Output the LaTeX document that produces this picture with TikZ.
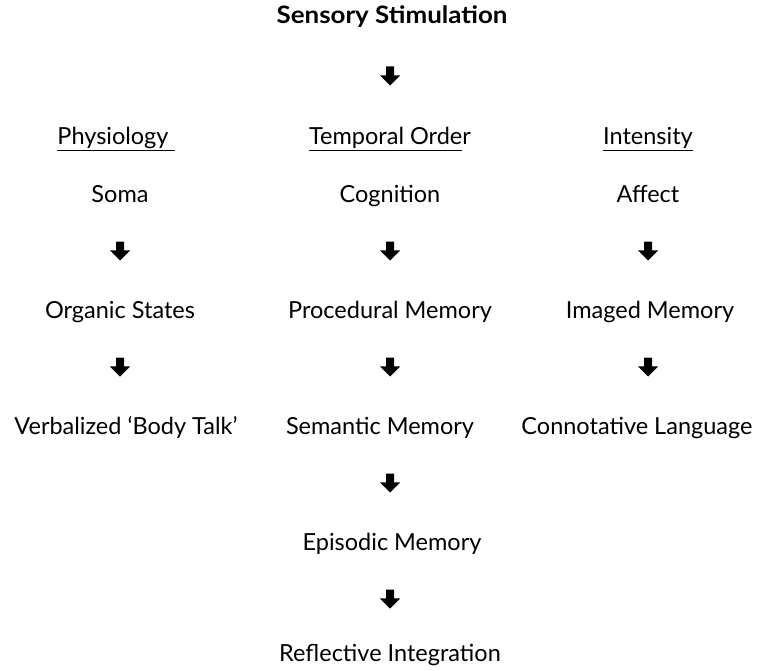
\documentclass[tikz,border=0pt]{standalone}
\usepackage{fontspec}
\setmainfont{Lato}
\usepackage{tikz}
\usetikzlibrary{shapes.arrows,positioning}

\begin{document}
\begin{tikzpicture}[x=1pt,y=-1pt,
    lbl/.style={font=\fontsize{23.5}{26}\selectfont, inner sep=0pt, anchor=base},
    darr/.style={single arrow, fill=black, draw=none, shape border rotate=270,
      minimum height=19pt, minimum width=20pt, inner sep=3.8pt,
      single arrow head extend=6.2pt, single arrow tip angle=90}]
      \useasboundingbox (0,0) rectangle (757,671);
      \node[lbl, font=\fontsize{24}{26}\selectfont\bfseries] at (392,24) (stim) {\scalebox{1.08}[1]{Sensory Stimulation}};
      \node[darr] at (390,74) (a0) {};
      % headers
      \node[lbl] at (116,145) (phys) {\underline{Physiology\ }};
      \node[lbl] at (390,145) (temp) {\underline{Temporal Orde}r};
      \node[lbl] at (648,145) (inten) {\underline{Intensity}};
      % first row
      \node[lbl] at (120,202) (soma) {Soma};
      \node[lbl] at (390,202) (cog) {Cognition};
      \node[lbl] at (648,202) (aff) {Affect};
      \node[darr] at (120,249) (a1) {};
      \node[darr] at (390,249) (a2) {};
      \node[darr] at (648,249) (a3) {};
      % second row
      \node[lbl] at (120,318) (org) {Organic States};
      \node[lbl] at (390,318) (proc) {Procedural Memory};
      \node[lbl] at (650,318) (imag) {Imaged Memory};
      \node[darr] at (120,365) (a4) {};
      \node[darr] at (390,365) (a5) {};
      \node[darr] at (648,365) (a6) {};
      % third row
      \node[lbl] at (126,434) (verb) {Verbalized ‘Body Talk’};
      \node[lbl] at (380,434) (sem) {Semantic Memory};
      \node[lbl] at (637,434) (conn) {Connotative Language};
      \node[darr] at (390,481) (a7) {};
      \node[lbl] at (392,550) (epi) {Episodic Memory};
      \node[darr] at (390,597) (a8) {};
      \node[lbl] at (390,661) (refl) {Reflective Integration};
\end{tikzpicture}
\end{document}
